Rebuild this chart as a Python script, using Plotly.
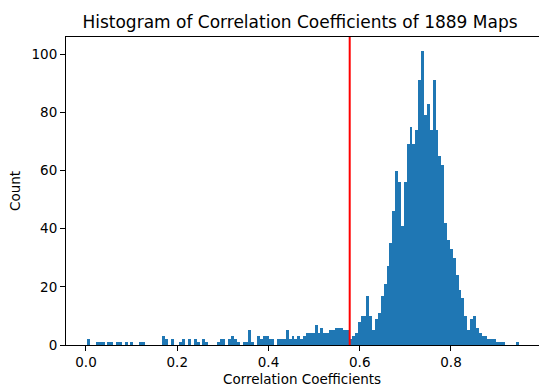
import numpy as np
import plotly.graph_objects as go

# ---- data ----
bin_start = 0.0028          # left edge of first bin
bin_width = 0.006308        # 150 equal bins
counts = [
    2, 0, 0, 1, 1, 1, 0, 1, 1, 0,     # 0-9
    1, 1, 0, 1, 0, 1, 0, 0, 1, 1,     # 10-19
    0, 0, 0, 0, 0, 0, 3, 2, 0, 2,     # 20-29
    0, 0, 1, 2, 0, 2, 0, 2, 1, 0,     # 30-39
    2, 1, 0, 0, 0, 1, 2, 2, 0, 2,     # 40-49
    3, 2, 1, 0, 1, 1, 5, 1, 0, 3,     # 50-59
    2, 3, 3, 2, 2, 0, 2, 2, 2, 5,     # 60-69
    2, 3, 2, 3, 2, 3, 4, 4, 4, 7,     # 70-79
    4, 6, 4, 4, 5, 5, 6, 6, 6, 5,     # 80-89
    5, 2, 3, 4, 8, 10, 10, 17, 10, 5, # 90-99
    9, 11, 17, 21, 27, 35, 46, 60, 56, 41,   # 100-109
    56, 69, 75, 69, 74, 91, 101, 79, 83, 74, # 110-119
    91, 74, 65, 62, 42, 36, 33, 30, 24, 19,  # 120-129
    16, 10, 5, 9, 10, 6, 4, 3, 3, 2,         # 130-139
    2, 2, 1, 1, 1, 0, 0, 0, 0, 1,            # 140-149
]
threshold = 0.578
x_ticks = [0.0, 0.2, 0.4, 0.6, 0.8]
y_ticks = [0, 20, 40, 60, 80, 100]
title_text = "Histogram of Correlation Coefficients of 1889 Maps"
x_label = "Correlation Coefficients"
y_label = "Count"

centers = [bin_start + bin_width * (i + 0.5) for i in range(len(counts))]

FONT = "DejaVu Sans"
fig = go.Figure()
fig.add_trace(go.Bar(
    x=centers, y=counts, width=[bin_width] * len(counts),
    marker=dict(color="#1f77b4", line=dict(width=0)),
    hoverinfo="x+y",
))

fig.add_shape(type="line", xref="x", yref="paper",
              x0=threshold, x1=threshold, y0=0, y1=1,
              line=dict(color="red", width=2))

W, H = 539, 388
L, R, T, B = 66, 0, 37, 43

fig.update_layout(
    width=W, height=H,
    margin=dict(l=L, r=R, t=T, b=B, pad=0),
    paper_bgcolor="white", plot_bgcolor="white",
    showlegend=False, bargap=0,
    font=dict(family=FONT, color="black", size=13.5),
    title=dict(text=title_text, x=300 / W, xanchor="center",
               y=1 - 22 / H, yanchor="middle", yref="container",
               font=dict(family=FONT, size=17, color="black")),
    xaxis=dict(
        range=[-0.0438, 0.9929], tickvals=x_ticks, tickformat=".1f",
        showgrid=False, zeroline=False, showline=True, linecolor="black",
        linewidth=1, mirror=True, ticks="outside", ticklen=5, tickwidth=1,
        tickcolor="black", tickfont=dict(family=FONT, size=13.5),
    ),
    yaxis=dict(
        range=[0, 105.9], tickvals=y_ticks,
        showgrid=False, zeroline=False, showline=True, linecolor="black",
        linewidth=1, mirror=False, ticks="outside", ticklen=5, tickwidth=1,
        tickcolor="black", tickfont=dict(family=FONT, size=13.5),
    ),
    annotations=[
        dict(text=x_label, xref="paper", yref="paper",
             x=(302 - L) / (W - L), y=(345 - 379) / (H - T - B),
             xanchor="center", yanchor="middle", showarrow=False,
             font=dict(family=FONT, size=13.5, color="black")),
        dict(text=y_label, xref="paper", yref="paper",
             x=(15 - L) / (W - L), y=0.5, textangle=-90,
             xanchor="center", yanchor="middle", showarrow=False,
             font=dict(family=FONT, size=13.5, color="black")),
    ],
)

fig.write_html("out.html")
